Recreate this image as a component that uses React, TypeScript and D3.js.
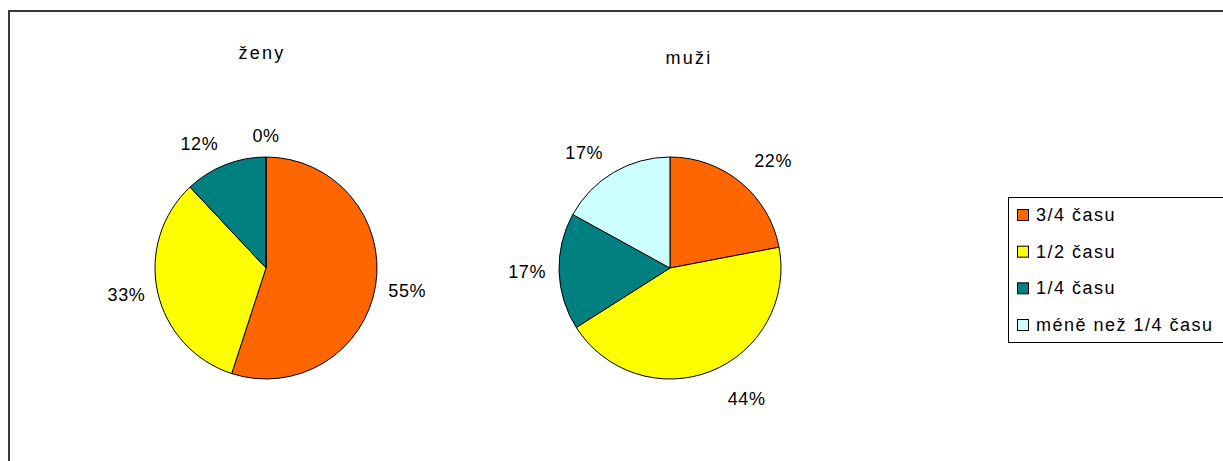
import { useRef, useEffect } from "react";
import * as d3 from "d3";

const categories = ["3/4 času", "1/2 času", "1/4 času", "méně než 1/4 času"];
const colors = ["#FF6600", "#FFFF00", "#008080", "#CCFFFF"];
const zenyValues = [55, 33, 12, 0];
const muziValues = [22, 44, 17, 17];

// per-label nudges, the way Excel shoves labels around
const zenyNudge = [[0, 2], [0, -2], [-14, 1], [0, 2]];
const muziNudge = [[12, -4], [24, 6], [0, 0], [-13, 0]];

const charts = [
  { title: "ženy", values: zenyValues, nudge: zenyNudge, cx: 266, cy: 268, tx: 262, ty: 53 },
  { title: "muži", values: muziValues, nudge: muziNudge, cx: 670, cy: 268, tx: 689, ty: 58 },
];

export default function App() {
  const svgRef = useRef<SVGSVGElement>(null);

  useEffect(() => {
    const w = 1223;
    const h = 461;
    const r = 111;
    const font = "'Liberation Sans', Arial, sans-serif";
    const svg = d3.select(svgRef.current).attr("width", w).attr("height", h);
    svg.selectAll("*").remove();

    svg.append("rect").attr("width", w).attr("height", h).attr("fill", "#fff");

    // outer frame, runs off the right and bottom edge
    svg
      .append("rect")
      .attr("x", 9)
      .attr("y", 11)
      .attr("width", w + 20)
      .attr("height", h + 20)
      .attr("fill", "none")
      .attr("stroke", "#3a3a3a")
      .attr("stroke-width", 2);

    const pie = d3
      .pie<number>()
      .sort(null)
      .value((d) => d);
    const arc = d3.arc<d3.PieArcDatum<number>>().innerRadius(0).outerRadius(r);

    charts.forEach((c) => {
      const g = svg.append("g").attr("transform", `translate(${c.cx},${c.cy})`);
      const arcs = pie(c.values);

      g.selectAll("path")
        .data(arcs)
        .join("path")
        .attr("d", arc)
        .attr("fill", (d, i) => colors[i])
        .attr("stroke", "#000")
        .attr("stroke-width", 1);

      // labels outside the pie, pushed out by half their size
      g.selectAll("text.lbl")
        .data(arcs)
        .join("text")
        .attr("class", "lbl")
        .each(function (d, i) {
          const a = (d.startAngle + d.endAngle) / 2;
          const s = Math.sin(a);
          const co = -Math.cos(a);
          const rr = r + 14;
          const x = rr * s + s * 18 + c.nudge[i][0];
          const y = rr * co + co * 9 + c.nudge[i][1];
          d3.select(this).attr("x", x).attr("y", y);
        })
        .attr("text-anchor", "middle")
        .attr("dominant-baseline", "central")
        .attr("font-family", font)
        .attr("font-size", 18)
        .attr("letter-spacing", 0.6)
        .attr("fill", "#000")
        .text((d) => `${d.data}%`);

      svg
        .append("text")
        .attr("x", c.tx)
        .attr("y", c.ty)
        .attr("text-anchor", "middle")
        .attr("dominant-baseline", "central")
        .attr("font-family", font)
        .attr("font-size", 18)
        .attr("letter-spacing", 2.2)
        .text(c.title);
    });

    // legend
    const lx = 1008;
    const ly = 197;
    const lg = svg.append("g").attr("transform", `translate(${lx},${ly})`);
    lg.append("rect")
      .attr("x", 0.5)
      .attr("y", 0.5)
      .attr("width", 240)
      .attr("height", 145)
      .attr("fill", "#fff")
      .attr("stroke", "#000");
    const ys = d3.scalePoint<string>().domain(categories).range([18, 128]);
    categories.forEach((cat, i) => {
      const y = ys(cat) as number;
      lg.append("rect")
        .attr("x", 9.5)
        .attr("y", y - 5.5)
        .attr("width", 11)
        .attr("height", 11)
        .attr("fill", colors[i])
        .attr("stroke", "#000");
      lg.append("text")
        .attr("x", 28)
        .attr("y", y)
        .attr("dominant-baseline", "central")
        .attr("font-family", font)
        .attr("font-size", 18)
        .attr("letter-spacing", 1.5)
        .text(cat);
    });
  }, []);

  return (
    <div style={{ position: "fixed", left: 0, top: 0 }}>
      <svg ref={svgRef} style={{ display: "block" }}></svg>
    </div>
  );
}
